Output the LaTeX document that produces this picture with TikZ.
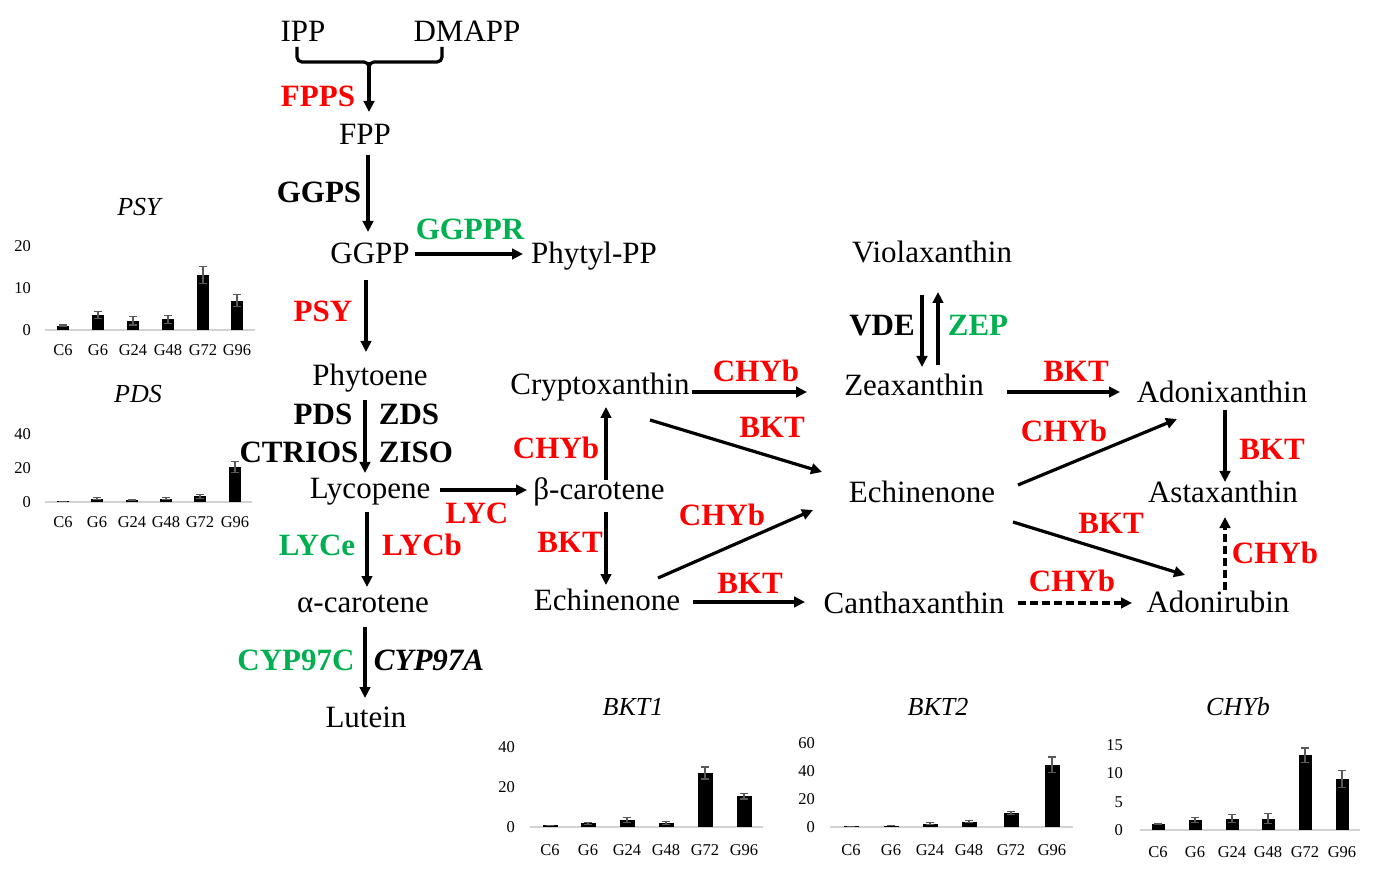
\documentclass[tikz,border=0pt]{standalone}
\usepackage{fontspec}
\setmainfont{Liberation Serif}
\usetikzlibrary{arrows.meta,calc}
\definecolor{myred}{RGB}{255,0,0}
\definecolor{mygreen}{RGB}{0,176,80}
\definecolor{errgray}{RGB}{89,89,89}
\definecolor{axgray}{RGB}{210,210,210}
\newcommand\drawbars[4]{%
  \foreach \bx/\bv/\be in {#4}{
    \fill[black] ({\bx-#3},#1) rectangle ({\bx+#3},{#1-\bv*#2});
    \draw[errbar] (\bx,{#1-(\bv-\be)*#2}) -- (\bx,{#1-(\bv+\be)*#2})
      ({\bx-4},{#1-(\bv-\be)*#2}) -- ({\bx+4},{#1-(\bv-\be)*#2})
      ({\bx-4},{#1-(\bv+\be)*#2}) -- ({\bx+4},{#1-(\bv+\be)*#2});
  }}
\begin{document}
\begin{tikzpicture}[x=1pt,y=-1pt,
  cmpd/.style={font=\fontsize{31}{37}\selectfont, anchor=base, inner sep=0pt},
  enz/.style={font=\fontsize{31}{37}\selectfont\bfseries, anchor=base, inner sep=0pt},
  enzi/.style={font=\fontsize{31}{37}\selectfont\bfseries\itshape, anchor=base, inner sep=0pt},
  rlab/.style={enz, text=myred},
  glab/.style={enz, text=mygreen},
  arr/.style={line width=3.2pt, -{Triangle[length=11pt,width=10.5pt]}},
  darr/.style={arr, dash pattern=on 8pt off 4pt},
  ctitle/.style={font=\fontsize{26}{30}\selectfont\itshape, anchor=base, inner sep=0pt},
  ctick/.style={font=\fontsize{16.5}{20}\selectfont, anchor=base east, inner sep=0pt},
  ccat/.style={font=\fontsize{16.5}{20}\selectfont, anchor=base, inner sep=0pt},
  axisline/.style={axgray, line width=1.5pt},
  errbar/.style={errgray, line width=1.2pt},
]
\useasboundingbox[fill=white] (0,0) rectangle (1382,874);

% ---------- compounds ----------
\node[cmpd] (IPP) at (303,42) {IPP};
\node[cmpd] (DMAPP) at (467,42) {DMAPP};
\node[cmpd] (FPP) at (365,145) {FPP};
\node[cmpd] (GGPP) at (370,264) {GGPP};
\node[cmpd] (PhytylPP) at (594,264) {Phytyl-PP};
\node[cmpd] (Phytoene) at (370,386) {Phytoene};
\node[cmpd] (Lycopene) at (370,498) {Lycopene};
\node[cmpd] (bcar) at (599,500) {β-carotene};
\node[cmpd] (acar) at (363,612) {α-carotene};
\node[cmpd] (Lutein) at (366,727) {Lutein};
\node[cmpd] (Crypto) at (600,395) {Cryptoxanthin};
\node[cmpd] (EchL) at (607,610) {Echinenone};
\node[cmpd] (Zea) at (914,396) {Zeaxanthin};
\node[cmpd] (Viola) at (932,263) {Violaxanthin};
\node[cmpd] (EchM) at (922,502) {Echinenone};
\node[cmpd] (Canth) at (914,613) {Canthaxanthin};
\node[cmpd] (Adonix) at (1222,403) {Adonixanthin};
\node[cmpd] (Astax) at (1223,502) {Astaxanthin};
\node[cmpd] (Adonir) at (1218,612) {Adonirubin};

% ---------- bracket ----------
\coordinate (brL) at ($(IPP.base)+(-6,5)$);
\coordinate (brR) at ($(DMAPP.base)+(-25,5)$);
\coordinate (brM) at (369,62);
\draw[line width=3.2pt, rounded corners=5pt] (brL) |- (brM) -- ++(0,8);
\draw[line width=3.2pt, rounded corners=5pt] (brR) |- (brM) -- ++(0,8);
\draw[arr] (brM) -- ($(FPP.base)+(4,-33)$);

% ---------- arrows ----------
\draw[arr] ($(FPP.base)+(3,10)$) -- ($(GGPP.base)+(-2,-32)$);
\draw[arr] ($(GGPP.base)+(45,-10)$) -- ($(PhytylPP.base)+(-71,-10)$);
\draw[arr] ($(GGPP.base)+(-4,16)$) -- ($(Phytoene.base)+(-4,-34)$);
\draw[arr] ($(Phytoene.base)+(-5,14)$) -- ($(Lycopene.base)+(-5,-25)$);
\draw[arr] ($(Lycopene.base)+(70,-8)$) -- ($(bcar.base)+(-72,-10)$);
\draw[arr] ($(Lycopene.base)+(-3,14)$) -- ($(acar.base)+(4,-25)$);
\draw[arr] ($(acar.base)+(2,15)$) -- ($(Lutein.base)+(-1,-29)$);
\draw[arr] ($(bcar.base)+(7,-20)$) -- ($(Crypto.base)+(6,12)$);
\draw[arr] ($(bcar.base)+(7,12)$) -- ($(EchL.base)+(-1,-25)$);
\draw[arr] ($(Crypto.base)+(92,-3)$) -- ($(Zea.base)+(-107,-4)$);
\draw[arr] ($(Crypto.base)+(50,25)$) -- ($(EchM.base)+(-100,-30)$);
\draw[arr] ($(EchL.base)+(51,-32)$) -- ($(EchM.base)+(-109,8)$);
\draw[arr] ($(EchL.base)+(86,-8)$) -- ($(Canth.base)+(-109,-11)$);
\draw[arr] ($(Viola.base)+(-10,32)$) -- ($(Zea.base)+(8,-29)$);
\draw[arr] ($(Zea.base)+(24,-31)$) -- ($(Viola.base)+(6,29)$);
\draw[arr] ($(Zea.base)+(93,-4)$) -- ($(Adonix.base)+(-102,-11)$);
\draw[arr] ($(EchM.base)+(96,-17)$) -- ($(Adonix.base)+(-45,16)$);
\draw[arr] ($(EchM.base)+(91,20)$) -- ($(Adonir.base)+(-33,-37)$);
\draw[arr] ($(Adonix.base)+(3,7)$) -- ($(Astax.base)+(2,-20)$);
\draw[darr] ($(Adonir.base)+(7,-22)$) -- ($(Astax.base)+(2,15)$);
\draw[darr] ($(Canth.base)+(104,-10)$) -- ($(Adonir.base)+(-86,-9)$);

% ---------- enzyme labels ----------
\node[rlab] (lFPPS) at (318,107) {FPPS};
\node[enz] (lGGPS) at (319,203) {GGPS};
\node[glab] (lGGPPR) at (470,240) {GGPPR};
\node[rlab] (lPSY) at (323,322) {PSY};
\node[enz] (lPDS) at (323,425) {PDS};
\node[enz] (lZDS) at (409,425) {ZDS};
\node[enz] (lCTRIOS) at (299,463) {CTRIOS};
\node[enz] (lZISO) at (416,463) {ZISO};
\node[rlab] (lLYC) at (477,523) {LYC};
\node[glab] (lLYCe) at (317,555) {LYCe};
\node[rlab] (lLYCb) at (422,555) {LYCb};
\node[glab] (lCYPC) at (296,670) {CYP97C};
\node[enzi] (lCYPA) at (429,670) {CYP97A};
\node[rlab] (l1) at (556,458) {CHYb};
\node[rlab] (l2) at (570,552) {BKT};
\node[rlab] (l3) at (756,382) {CHYb};
\node[rlab] (l4) at (772,438) {BKT};
\node[rlab] (l5) at (722,525) {CHYb};
\node[rlab] (l6) at (750,593) {BKT};
\node[enz] (lVDE) at (882,336) {VDE};
\node[glab] (lZEP) at (978,336) {ZEP};
\node[rlab] (l7) at (1076,382) {BKT};
\node[rlab] (l8) at (1064,442) {CHYb};
\node[rlab] (l9) at (1272,460) {BKT};
\node[rlab] (l10) at (1111,533) {BKT};
\node[rlab] (l11) at (1275,563) {CHYb};
\node[rlab] (l12) at (1072,591) {CHYb};

% ---------- chart PSY ----------
\node[ctitle] (tPSY) at (139,216) {PSY};
\draw[axisline] (45,330) -- (255,330);
\foreach \ty/\tl in {330/0,288/10,246/20} \node[ctick] (psyt\tl) at (31,\ty+5.5) {\tl};
\drawbars{330}{4.2}{6}{63/1.0/0.2, 98/3.6/0.8, 133/2.2/1.0, 168/2.5/1.0, 203/13.1/2.1, 237/7.0/1.5}
\foreach \bx/\t in {63/C6,98/G6,133/G24,168/G48,203/G72,237/G96} \node[ccat] (psyc\t) at (\bx,356) {\t};

% ---------- chart PDS ----------
\node[ctitle] (tPDS) at (138,403) {PDS};
\draw[axisline] (45,502) -- (252,502);
\foreach \ty/\tl in {502/0,468/20,434/40} \node[ctick] (pdst\tl) at (31,\ty+5.5) {\tl};
\drawbars{502}{1.7}{6}{63/0.3/0.1, 97/2.0/0.6, 132/1.3/0.4, 166/2.0/0.7, 200/3.3/1.2, 235/20.5/3.2}
\foreach \bx/\t in {63/C6,97/G6,132/G24,166/G48,200/G72,235/G96} \node[ccat] (pdsc\t) at (\bx,527) {\t};

% ---------- chart BKT1 ----------
\node[ctitle] (tBKTa) at (633,715) {BKT1};
\draw[axisline] (530,827) -- (763,827);
\foreach \ty/\tl in {827/0,787/20,747/40} \node[ctick] (bkat\tl) at (515,\ty+5.5) {\tl};
\drawbars{827}{2}{7.5}{550/0.8/0.1, 588/1.8/0.5, 627/3.5/1.2, 666/2.0/0.8, 705/27/3, 744/15.3/1.3}
\foreach \bx/\t in {550/C6,588/G6,627/G24,666/G48,705/G72,744/G96} \node[ccat] (bkac\t) at (\bx,855) {\t};

% ---------- chart BKT2 ----------
\node[ctitle] (tBKTb) at (938,715) {BKT2};
\draw[axisline] (830,827) -- (1073,827);
\foreach \ty/\tl in {827/0,799/20,771/40,743/60} \node[ctick] (bkbt\tl) at (815,\ty+5.5) {\tl};
\drawbars{827}{1.4}{7.5}{851/0.5/0.1, 891/1.0/0.2, 930/2.5/0.8, 969/3.8/0.8, 1011/10/1.0, 1052/44.5/5.5}
\foreach \bx/\t in {851/C6,891/G6,930/G24,969/G48,1011/G72,1052/G96} \node[ccat] (bkbc\t) at (\bx,855) {\t};

% ---------- chart CHYb ----------
\node[ctitle] (tCHYb) at (1238,715) {CHYb};
\draw[axisline] (1140,830) -- (1360,830);
\foreach \ty/\tl in {830/0,801.5/5,773/10,744.5/15} \node[ctick] (chyt\tl) at (1123,\ty+5.5) {\tl};
\drawbars{830}{5.7}{6.5}{1158/1.0/0.05, 1195/1.75/0.5, 1232/2.0/0.7, 1268/2.0/0.9, 1305/13.1/1.3, 1342/8.9/1.5}
\foreach \bx/\t in {1158/C6,1195/G6,1232/G24,1268/G48,1305/G72,1342/G96} \node[ccat] (chyc\t) at (\bx,857) {\t};

\end{tikzpicture}
\end{document}
